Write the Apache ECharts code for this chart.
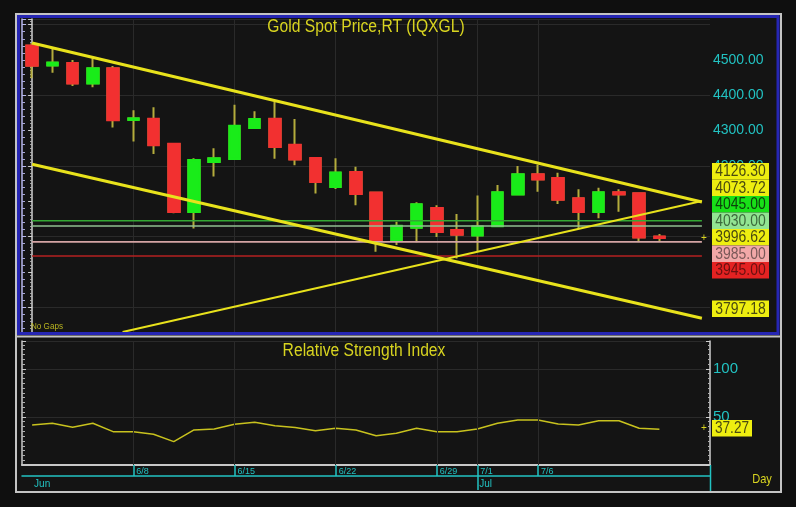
<!DOCTYPE html>
<html>
<head>
<meta charset="utf-8">
<title>Gold Spot Price,RT (IQXGL)</title>
<script src="https://cdn.jsdelivr.net/npm/echarts@6/dist/echarts.min.js"></script>
<style>
html, body { margin: 0; padding: 0; background: #0f0f0f; }
#main { width: 796px; height: 507px; }
</style>
</head>
<body>
<div id="main"></div>
<script>
// trading days; the last two slots are empty room on the right
var days = ['6/1','6/2','6/3','6/4','6/5','6/8','6/9','6/10','6/11','6/12',
	'6/15','6/16','6/17','6/18','6/19','6/22','6/23','6/24','6/25','6/26',
	'6/29','6/30','7/1','7/2','7/3','7/6','7/7','7/8','7/9','7/10',
	'7/13','7/14','7/15','7/16'];
var dateTicks = ['6/8','6/15','6/22','6/29','7/1','7/6'];
var monthStarts = { '6/1': 'Jun', '7/1': 'Jul' };

// daily candles
var openVals  = [4540,4485,4491,4434,4476,4331,4333,4262,4070,4212,4220,4308,4333,4259,4222,4141,
	4182,4124,3990,4026,4080,4018,4004,4030,4120,4176,4165,4108,4070,4125,4122,3999.5];
var closeVals = [4484,4492,4434,4476,4330,4334,4259,4070,4216,4221,4313,4332,4254,4219,4155,4181,
	4121,3990,4030,4091,4014,4006,4028,4125,4176,4162,4105,4070,4125,4120,3998,3996.62];
var lowVals   = [4448,4464,4426,4423,4309,4269,4234,4066,4023,4170,4219,4306,4220,4202,4122,4135,
	4089,3957,3976,3984,3999,3938,3957,4030,4117,4127,4092,4023,4052,4070,3985,3985];
var highVals  = [4548,4533,4500,4505,4483,4358,4366,4265,4222,4250,4373,4355,4382,4333,4225,4222,
	4198,4126,4042,4097,4089,4064,4116,4146,4200,4203,4181,4134,4138,4134,4123,4007];

// RSI
var rsiVals = [41.7,43.4,39.3,43.4,34.7,34.7,32,24.3,36.5,37.5,42.4,44.5,40.9,38.9,35.7,38.2,
	36.5,30.5,33,38.2,34.7,34.7,37.5,43.4,46.9,46.9,42.7,41.7,46.1,46.1,38.2,37.27];

// support / resistance levels and trend lines (x in bar units)
var levelValues = [4045, 4030, 3985, 3945];
var upperTrend  = [[0, 4548], [33.1, 4098]];
var lowerTrend  = [[0, 4205], [33.1, 3769]];
var risingTrend = [[4.47, 3730], [33.1, 4101]];

// axis labels and price tags
var priceTickLabels = [4200, 4300, 4400, 4500];
var rsiTickLabels = [50, 100];
var tagValues = [4126.30, 4073.72, 4045.00, 4030.00, 3996.62, 3985.00, 3945.00, 3797.18];
var rsiLast = 37.27;

var FONT = '"Liberation Sans", Arial, sans-serif';
var CYAN = '#22c2c2';
var YELLOW = '#d8d420';

var tagTops = [163, 179.5, 196, 212.5, 229, 245.5, 262, 300.5];
var tagFill = ['#eeee10','#eeee10','#18e018','#92e492','#eeee10','#f2a8a8','#e42222','#eeee10'];
var tagInk  = ['#4a4a10','#4a4a10','#0c420c','#3c6a3c','#4a4a10','#7a5858','#6a1010','#4a4a10'];
var levelColors = ['#34a834','#90c090','#d4a4a4','#b42020'];

var candleBars = openVals.map(function (o, i) {
	return [o, closeVals[i], lowVals[i], highVals[i]];
});
var candleBodies = openVals.map(function (o, i) {
	var c = closeVals[i];
	return [o, c, Math.min(o, c), Math.max(o, c)];
});

function isDateTick(i, v) { return dateTicks.indexOf(v) >= 0; }

// narrow text: normal font squeezed sideways around its anchor
function narrowText(txt, x, y, size, color, squeeze, align, z) {
	return {
		type: 'text', z: z || 30, silent: true, x: x, y: y, scaleX: squeeze,
		style: { text: txt, x: 0, y: 0, textAlign: align || 'center', align: align || 'center',
			textVerticalAlign: 'middle', verticalAlign: 'middle', fill: color, font: size + 'px ' + FONT }
	};
}

var series = [];
// vertical grid lines (under everything)
series.push({
	type: 'line', xAxisIndex: 1, yAxisIndex: 0, data: [], z: 1, silent: true,
	markLine: {
		silent: true, symbol: 'none', z: 1, label: { show: false },
		lineStyle: { color: '#2a2a2a', width: 1, type: 'solid' },
		data: dateTicks.map(function (d) { return { xAxis: days.indexOf(d) }; })
	}
});
// wicks
series.push({
	type: 'candlestick', xAxisIndex: 0, yAxisIndex: 0, data: candleBars, barWidth: 11, z: 2,
	itemStyle: { color: '#b4ac3c', color0: '#b4ac3c', borderColor: '#b4ac3c', borderColor0: '#b4ac3c', borderWidth: 2 }
});
// bodies
series.push({
	type: 'candlestick', xAxisIndex: 0, yAxisIndex: 0, data: candleBodies, barWidth: 11, z: 3,
	itemStyle: { color: '#19ec19', color0: '#f23030', borderColor: '#19ec19', borderColor0: '#f23030', borderWidth: 2.5 }
});
levelValues.forEach(function (v, i) {
	series.push({
		type: 'line', xAxisIndex: 1, yAxisIndex: 0, symbol: 'none', silent: true, z: 4,
		data: [[0, v], [33.1, v]],
		lineStyle: { color: levelColors[i], width: 1.6 }
	});
});
[upperTrend, lowerTrend, risingTrend].forEach(function (t, i) {
	series.push({
		type: 'line', xAxisIndex: 1, yAxisIndex: 0, symbol: 'none', silent: true, z: 5,
		data: t, lineStyle: { color: '#e8e21c', width: i < 2 ? 3 : 2 }
	});
});
// RSI
series.push({
	type: 'line', xAxisIndex: 2, yAxisIndex: 2, symbol: 'none', silent: true, z: 3,
	data: rsiVals, lineStyle: { color: '#c8c21e', width: 1.5 },
	markLine: {
		silent: true, symbol: 'none', label: { show: false },
		lineStyle: { color: '#2a2a2a', width: 1, type: 'solid' },
		data: dateTicks.map(function (d) { return { xAxis: d }; })
	}
});

var graphics = [
	{ type: 'rect', z: -10, silent: true, shape: { x: 16, y: 14, width: 765, height: 478 }, style: { fill: '#141414' } },
	{ type: 'rect', z: 50, silent: true, shape: { x: 16, y: 14, width: 765, height: 478 }, style: { fill: 'none', stroke: '#c4c4c4', lineWidth: 2 } },
	{ type: 'rect', z: 50, silent: true, shape: { x: 18.5, y: 16.5, width: 759.5, height: 317 }, style: { fill: 'none', stroke: '#2626b4', lineWidth: 3 } },
	{ type: 'line', z: 50, silent: true, shape: { x1: 16, y1: 336.5, x2: 781, y2: 336.5 }, style: { stroke: '#c4c4c4', lineWidth: 2 } },
	{ type: 'line', z: 50, silent: true, shape: { x1: 710.5, y1: 465, x2: 710.5, y2: 491 }, style: { stroke: CYAN, lineWidth: 1.5 } },
	narrowText('Gold Spot Price,RT (IQXGL)', 366, 27, 18, YELLOW, 0.87),
	narrowText('Relative Strength Index', 364, 351, 18, YELLOW, 0.87),
	narrowText('No Gaps', 31, 327, 9, '#b8b420', 0.9, 'left'),
	narrowText('Day', 762, 479, 13, YELLOW, 0.85),
	narrowText('+', 704, 238, 10, YELLOW, 1),
	narrowText('+', 704, 428, 10, YELLOW, 1),
	{ type: 'rect', z: 60, silent: true, shape: { x: 712, y: 420, width: 40, height: 16.5 }, style: { fill: '#eeee10' } },
	narrowText(rsiLast.toFixed(2), 732, 428.8, 17, '#4a4a10', 0.8, 'center', 61)
];
tagValues.forEach(function (v, i) {
	graphics.push({ type: 'rect', z: 60, silent: true, shape: { x: 712, y: tagTops[i], width: 57, height: 16.5 }, style: { fill: tagFill[i] } });
	graphics.push(narrowText(v.toFixed(2), 740.5, tagTops[i] + 8.8, 17, tagInk[i], 0.82, 'center', 61));
});

var option = {
	backgroundColor: '#0f0f0f',
	animation: false,
	grid: [
		{ left: 22, right: 86, top: 19, height: 314 },
		{ left: 22, right: 86, top: 341, height: 124 }
	],
	xAxis: [
		{ type: 'category', gridIndex: 0, data: days, boundaryGap: true, show: false },
		{ type: 'value', gridIndex: 0, min: -0.5, max: 33.5, show: false },
		{
			type: 'category', gridIndex: 1, data: days, boundaryGap: true,
			axisLine: { show: true, onZero: false, lineStyle: { color: '#c8c8c8', width: 2 } },
			axisTick: { show: true, alignWithLabel: true, length: 11, interval: isDateTick, lineStyle: { color: CYAN, width: 1.5 } },
			axisLabel: { show: true, interval: isDateTick, align: 'left', margin: 2, padding: [0, 0, 0, 3], color: CYAN, fontSize: 9, fontFamily: FONT },
			splitLine: { show: false }
		},
		{
			type: 'category', gridIndex: 1, data: days, boundaryGap: true, position: 'bottom', offset: 11,
			axisLine: { show: true, onZero: false, lineStyle: { color: CYAN, width: 1.5 } },
			axisTick: { show: true, alignWithLabel: true, length: 14, interval: function (i, v) { return v === '7/1'; }, lineStyle: { color: CYAN, width: 1.5 } },
			axisLabel: {
				show: true, interval: function (i, v) { return monthStarts.hasOwnProperty(v); },
				formatter: function (v) { return monthStarts[v] || ''; },
				align: 'left', margin: 3, padding: [0, 0, 0, 2], color: CYAN, fontSize: 10, fontFamily: FONT
			},
			splitLine: { show: false }
		}
	],
	yAxis: [
		{
			type: 'value', gridIndex: 0, position: 'right', min: 3727, max: 4616, splitNumber: 9, scale: true,
			axisLine: { show: true, lineStyle: { color: '#d0d0d0', width: 1.5 } },
			axisTick: { show: true, inside: true, length: 4, lineStyle: { color: '#d0d0d0' } },
			minorTick: { show: true, splitNumber: 10, length: 2, lineStyle: { color: '#b0b0b0' } },
			axisLabel: {
				margin: 3, color: CYAN, fontSize: 14, fontFamily: FONT,
				formatter: function (v) { return priceTickLabels.indexOf(Math.round(v)) >= 0 ? v.toFixed(2) : ''; }
			},
			splitLine: { show: false }
		},
		{
			type: 'value', gridIndex: 0, position: 'left', min: 3727, max: 4616, splitNumber: 4, scale: true,
			axisLine: { show: true, lineStyle: { color: '#b8b8ec', width: 1.5 } },
			axisTick: { show: true, inside: true, length: 4, lineStyle: { color: '#b8b8ec' } },
			minorTick: { show: true, splitNumber: 10, length: 3, lineStyle: { color: '#a8a8d8' } },
			axisLabel: { show: false },
			splitLine: { show: true, lineStyle: { color: '#2a2a2a', width: 1 } }
		},
		{
			type: 'value', gridIndex: 1, position: 'right', min: 0, max: 129, interval: 50,
			axisLine: { show: true, lineStyle: { color: '#d0d0d0', width: 1.5 } },
			axisTick: { show: true, inside: true, length: 4, lineStyle: { color: '#d0d0d0' } },
			minorTick: { show: true, splitNumber: 10, length: 2, lineStyle: { color: '#b0b0b0' } },
			axisLabel: {
				margin: 3, color: CYAN, fontSize: 15, fontFamily: FONT,
				formatter: function (v) { return rsiTickLabels.indexOf(Math.round(v)) >= 0 ? String(v) : ''; }
			},
			splitLine: { show: true, lineStyle: { color: '#2a2a2a', width: 1 } }
		},
		{
			type: 'value', gridIndex: 1, position: 'left', min: 0, max: 129, interval: 50,
			axisLine: { show: true, lineStyle: { color: '#c8c8c8', width: 1.5 } },
			axisTick: { show: true, inside: true, length: 4, lineStyle: { color: '#c8c8c8' } },
			minorTick: { show: true, splitNumber: 10, length: 3, lineStyle: { color: '#b0b0b0' } },
			axisLabel: { show: false },
			splitLine: { show: false }
		}
	],
	series: series,
	graphic: { elements: graphics }
};

var myChart = echarts.init(document.getElementById('main'));
myChart.setOption(option);
</script>
</body>
</html>
